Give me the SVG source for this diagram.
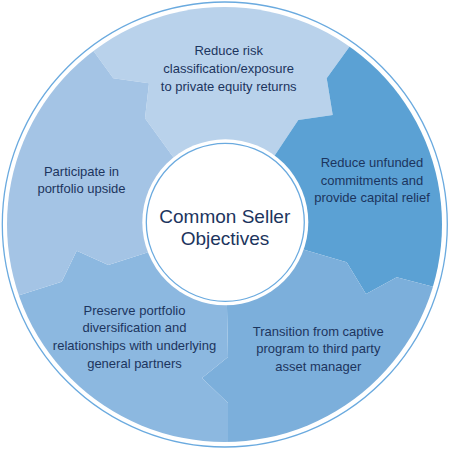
<svg xmlns="http://www.w3.org/2000/svg" width="450" height="449" viewBox="0 0 450 449">
<style>
.lbl{font-family:"Liberation Sans",Arial,sans-serif;font-size:13px;fill:#1c355e;text-anchor:middle}
.ctr{font-family:"Liberation Sans",Arial,sans-serif;font-size:19px;fill:#1c355e;text-anchor:middle}
.ring{fill:none;stroke:#6aaadf;stroke-width:1.3}
</style>
<defs>
<clipPath id="disk"><circle cx="224.5" cy="224.5" r="217.5"/></clipPath>
</defs>
<rect width="450" height="449" fill="#ffffff"/>
<circle class="ring" cx="224.8" cy="224.5" r="222.5"/>
<g clip-path="url(#disk)">
<g id="seg-top">
<polygon fill="#b9d2eb" points="225,222 171.7,155 145,118.3 149,83.3 113.3,78.3 93.3,50.7 73,23 60,-20 390,-20 370,18 350,46 326.7,78.3 332.7,115 298.3,120 275,155"/>
</g>
<g id="seg-right">
<polygon fill="#5ba1d4" points="225,222 275,155 298.3,120 332.7,115 326.7,78.3 350,46 370,18 390,-20 480,-20 480,300 470,296 435,287.3 396.7,277.3 366,294 346.7,262.3 305,250"/>
</g>
<g id="seg-bottom-right">
<polygon fill="#7cafdb" points="225,222 305,250 346.7,262.3 366,294 396.7,277.3 435,287.3 470,296 480,300 480,480 228,480 228,442 228,403 202,378 228,357 227,308"/>
</g>
<g id="seg-bottom-left">
<polygon fill="#8cb8e0" points="225,222 227,308 228,357 202,378 228,403 228,442 228,480 -20,480 -20,305 -10,305 20,295 61.7,281.7 76.7,250.7 108.3,265 145,253.3"/>
</g>
<g id="seg-left">
<polygon fill="#a4c4e5" points="225,222 145,253.3 108.3,265 76.7,250.7 61.7,281.7 20,295 -10,305 -20,305 -20,-20 60,-20 73,23 93.3,50.7 113.3,78.3 149,83.3 145,118.3 171.7,155"/>
</g>
</g>
<g id="label-top">
<text class="lbl" x="228.7" y="55">Reduce risk</text>
<text class="lbl" x="228.7" y="73">classification/exposure</text>
<text class="lbl" x="228.7" y="91">to private equity returns</text>
</g>
<g id="label-right">
<text class="lbl" x="372" y="166.7">Reduce unfunded</text>
<text class="lbl" x="372" y="184.5">commitments and</text>
<text class="lbl" x="372" y="202.3">provide capital relief</text>
</g>
<g id="label-bottom-right">
<text class="lbl" x="318.3" y="335.7">Transition from captive</text>
<text class="lbl" x="318.3" y="353.3">program to third party</text>
<text class="lbl" x="318.3" y="370.9">asset manager</text>
</g>
<g id="label-bottom-left">
<text class="lbl" x="134.5" y="314.7">Preserve portfolio</text>
<text class="lbl" x="134.5" y="332.3">diversification and</text>
<text class="lbl" x="134.5" y="349.9">relationships with underlying</text>
<text class="lbl" x="134.5" y="367.5">general partners</text>
</g>
<g id="label-left">
<text class="lbl" x="81.5" y="176">Participate in</text>
<text class="lbl" x="81.5" y="193.4">portfolio upside</text>
</g>
<g id="center">
<circle cx="225.3" cy="222.3" r="83" fill="#ffffff"/>
<circle class="ring" cx="225.3" cy="222.3" r="79"/>
<text class="ctr" x="224.8" y="223.3">Common Seller</text>
<text class="ctr" x="225" y="245">Objectives</text>
</g>
</svg>
